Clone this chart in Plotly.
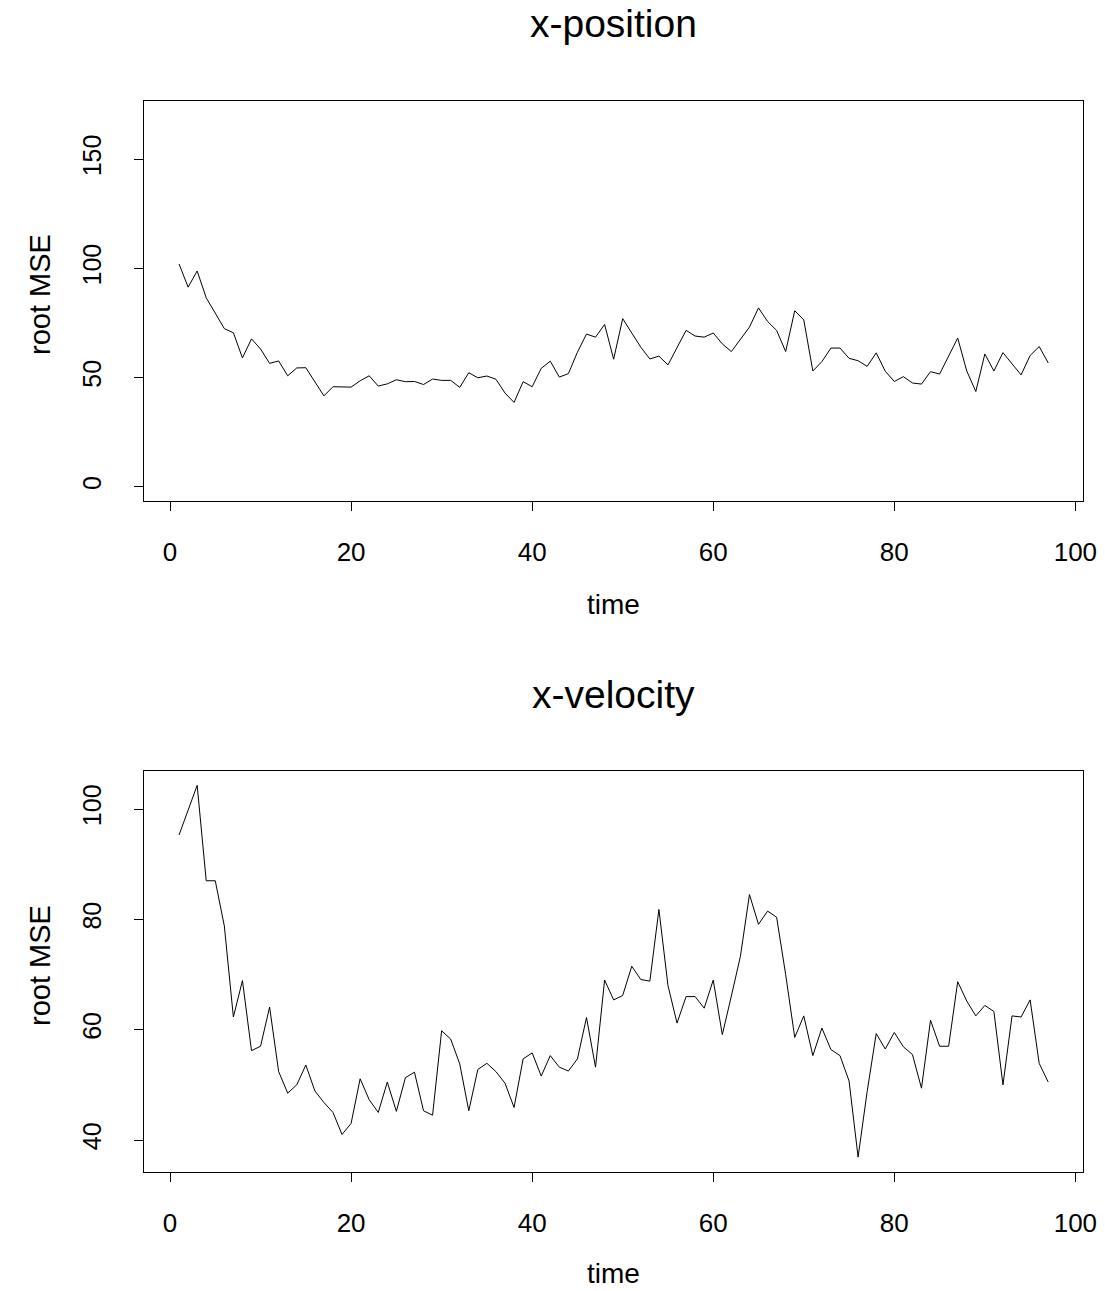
import plotly.graph_objects as go

time = list(range(1, 98))

pos_rmse = [102.0, 91.4, 98.8, 86.5, 79.5, 72.4, 70.5, 59.0, 67.7, 63.1,
            56.5, 57.6, 50.8, 54.4, 54.5, 48.1, 41.6, 45.8, 45.8, 45.6,
            48.5, 50.8, 46.1, 47.1, 49.0, 48.1, 48.2, 46.8, 49.3, 48.7,
            48.7, 45.5, 52.2, 49.9, 50.7, 49.2, 42.9, 38.6, 48.1, 45.8,
            54.2, 57.5, 50.2, 51.8, 61.6, 69.9, 68.5, 74.3, 58.4, 77.0,
            70.4, 63.9, 58.5, 59.8, 55.8, 63.9, 71.6, 69.0, 68.5, 70.4,
            65.4, 61.9, 67.7, 73.1, 81.9, 75.7, 71.6, 61.9, 80.6, 76.4,
            53.0, 57.3, 63.5, 63.5, 58.8, 57.7, 55.1, 61.3, 52.9, 48.2,
            50.4, 47.5, 47.0, 52.7, 51.6, 60.1, 68.1, 53.0, 43.6, 60.8,
            53.0, 61.4, 56.2, 51.2, 60.1, 64.2, 56.7]

vel_rmse = [95.3, 100.0, 104.3, 87.0, 87.0, 78.8, 62.3, 68.9, 56.2, 57.0,
            64.1, 52.4, 48.5, 50.0, 53.6, 48.9, 46.8, 45.0, 41.0, 43.0,
            51.1, 47.3, 45.0, 50.5, 45.2, 51.3, 52.3, 45.3, 44.5, 59.8,
            58.3, 53.8, 45.3, 52.8, 53.9, 52.4, 50.3, 45.9, 54.7, 55.8,
            51.6, 55.3, 53.2, 52.5, 54.7, 62.2, 53.2, 69.0, 65.4, 66.2,
            71.5, 69.1, 68.8, 81.8, 68.0, 61.2, 66.0, 66.0, 63.9, 69.0,
            59.1, 66.1, 73.3, 84.5, 79.1, 81.5, 80.4, 70.0, 58.6, 62.5,
            55.3, 60.3, 56.4, 55.3, 50.7, 36.9, 48.8, 59.3, 56.5, 59.5,
            56.9, 55.5, 49.4, 61.7, 57.0, 57.0, 68.7, 65.2, 62.5, 64.4,
            63.3, 50.0, 62.5, 62.3, 65.4, 53.9, 50.5]

x_ticks = [0, 20, 40, 60, 80, 100]
pos_y_ticks = [0, 50, 100, 150]
vel_y_ticks = [40, 60, 80, 100]

titles = ["x-position", "x-velocity"]
x_label = "time"
y_label = "root MSE"

W, H = 1105, 1291
FONT = "Liberation Sans, Arial, sans-serif"

def px(v):
    return v / W

fig = go.Figure()
fig.add_trace(go.Scatter(x=time, y=pos_rmse, mode="lines",
                         line=dict(color="black", width=1), xaxis="x", yaxis="y"))
fig.add_trace(go.Scatter(x=time, y=vel_rmse, mode="lines",
                         line=dict(color="black", width=1), xaxis="x2", yaxis="y2"))

xdom = [px(144.3), px(1083)]
top_dom = [1 - 501 / H, 1 - 100.7 / H]
bot_dom = [1 - 1172 / H, 1 - 771 / H]

def xax(anchor):
    return dict(domain=xdom, anchor=anchor, range=[-2.84, 100.84],
                automargin=False, ticklabeloverflow="allow",
                tickmode="array", tickvals=x_ticks, ticks="outside", ticklen=9,
                tickcolor="black", tickwidth=1, showgrid=False, zeroline=False,
                showline=True, mirror=True, linecolor="black", linewidth=1,
                tickfont=dict(family=FONT, size=26, color="black"),
                ticklabelstandoff=19)

def yax(anchor, dom, rng, tv):
    return dict(domain=dom, anchor=anchor, range=rng,
                automargin=False, ticklabeloverflow="allow",
                tickmode="array", tickvals=tv, ticks="outside", ticklen=9,
                tickcolor="black", tickwidth=1, showgrid=False, zeroline=False,
                showline=True, mirror=True, linecolor="black", linewidth=1,
                tickangle=-90,
                tickfont=dict(family=FONT, size=25, color="black"),
                ticklabelstandoff=23)

fig.update_layout(
    width=W, height=H,
    margin=dict(l=0, r=0, t=0, b=0),
    paper_bgcolor="white", plot_bgcolor="white",
    showlegend=False,
    xaxis=xax("y"),
    yaxis=yax("x", top_dom, [-6.55, 176.8], pos_y_ticks),
    xaxis2=xax("y2"),
    yaxis2=yax("x2", bot_dom, [34.2, 106.9], vel_y_ticks),
)

def ann(text, x, y, size, angle=0):
    fig.add_annotation(text=text, x=x, y=y, xref="paper", yref="paper",
                       showarrow=False, textangle=angle,
                       xanchor="center", yanchor="middle",
                       font=dict(family=FONT, size=size, color="black"))

cx = px(613.5)
ann(titles[0], cx, 1 - 23 / H, 39)
ann(titles[1], cx, 1 - 694 / H, 39)
ann(x_label, cx, 1 - 604 / H, 28)
ann(x_label, cx, 1 - 1273 / H, 28)
ann(y_label, px(40), 1 - 295 / H, 29, -90)
ann(y_label, px(40), 1 - 966 / H, 29, -90)

fig.write_html("out.html")
